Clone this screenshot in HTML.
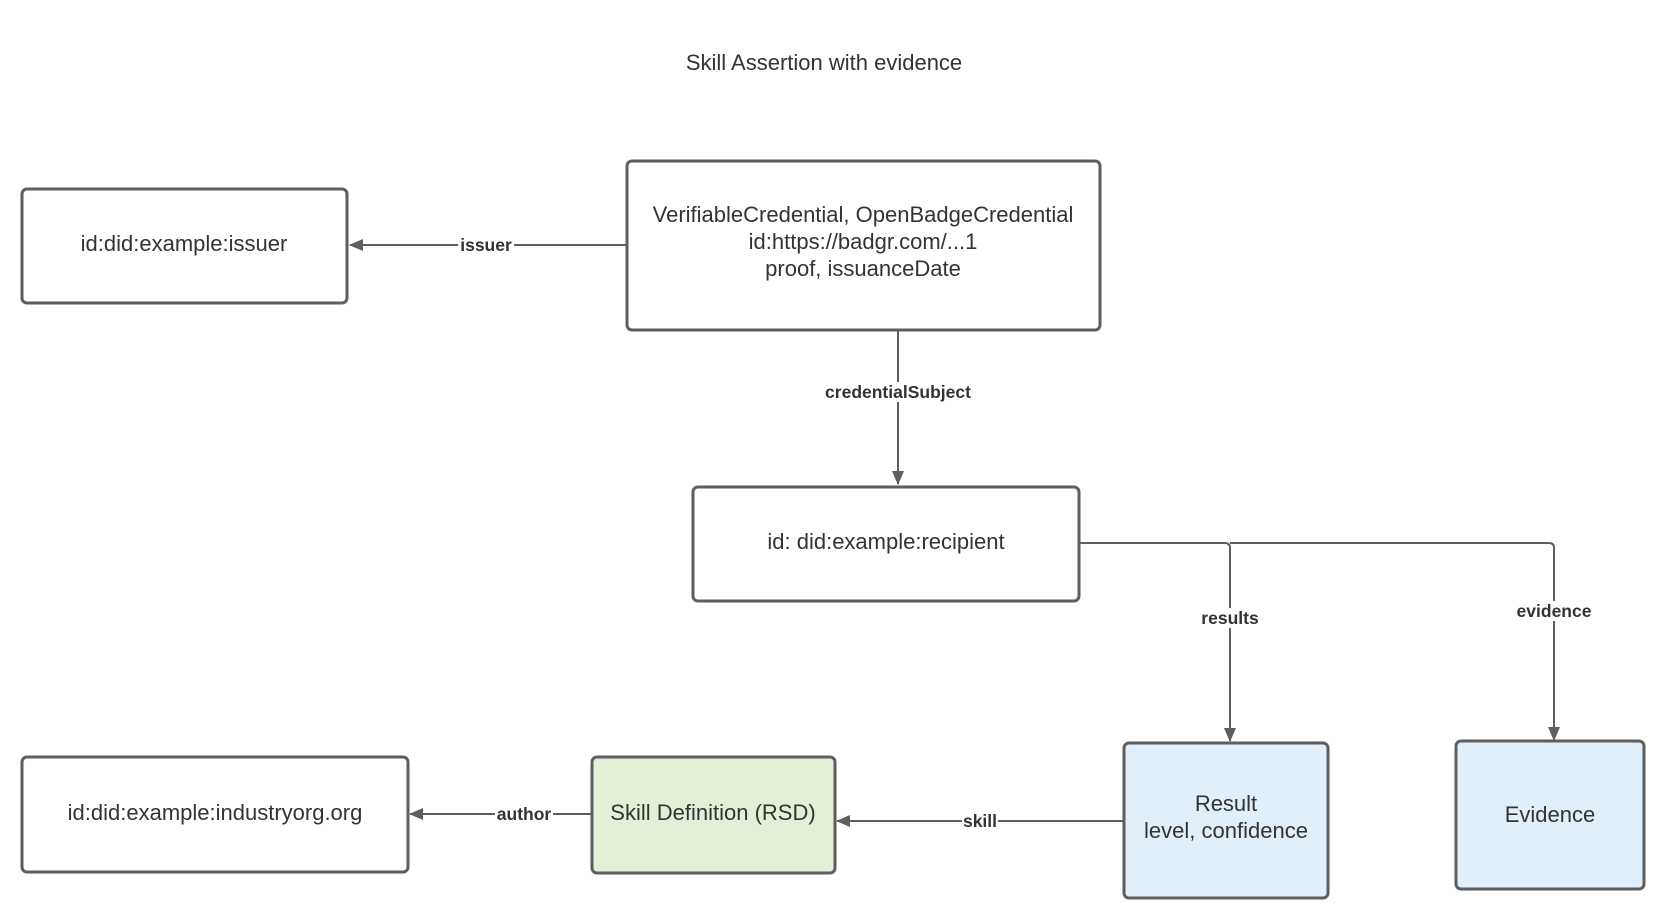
<!DOCTYPE html>
<html><head><meta charset="utf-8"><style>
html,body{margin:0;padding:0;background:#fff;}
svg{display:block;}
text{font-family:"Liberation Sans",Arial,sans-serif;fill:#333;}
.n{font-size:22px;text-anchor:middle;}
.l{font-size:17.5px;font-weight:bold;text-anchor:middle;}
.b{stroke:#5e5e5e;stroke-width:3;}
.c{stroke:#5e5e5e;stroke-width:2;fill:none;}
.bg{fill:#fff;}
</style></head><body>
<svg width="1668" height="916" viewBox="0 0 1668 916" xmlns="http://www.w3.org/2000/svg">
<defs><marker id="a" markerWidth="14" markerHeight="12" refX="13" refY="6" orient="auto" markerUnits="userSpaceOnUse"><path d="M0,0 L14,6 L0,12 z" fill="#5e5e5e"/></marker></defs>
<text x="824" y="70" class="n">Skill Assertion with evidence</text>

<line x1="626" y1="245" x2="350" y2="245" class="c" marker-end="url(#a)"/>
<line x1="898" y1="330" x2="898" y2="484" class="c" marker-end="url(#a)"/>
<path d="M1079 543 H1225 Q1230 543 1230 548 V741" class="c" marker-end="url(#a)"/>
<path d="M1230 543 H1549 Q1554 543 1554 548 V740" class="c" marker-end="url(#a)"/>
<line x1="591" y1="814" x2="410" y2="814" class="c" marker-end="url(#a)"/>
<line x1="1125" y1="821" x2="837" y2="821" class="c" marker-end="url(#a)"/>

<rect x="458" y="235" width="56" height="20" class="bg"/><text x="486" y="251" class="l">issuer</text>
<rect x="820" y="382" width="156" height="20" class="bg"/><text x="898" y="398" class="l">credentialSubject</text>
<rect x="1198" y="608" width="64" height="20" class="bg"/><text x="1230" y="624" class="l">results</text>
<rect x="1514" y="601" width="80" height="20" class="bg"/><text x="1554" y="617" class="l">evidence</text>
<rect x="495" y="804" width="58" height="20" class="bg"/><text x="524" y="820" class="l">author</text>
<rect x="962" y="811" width="36" height="20" class="bg"/><text x="980" y="827" class="l">skill</text>

<rect x="22" y="189" width="325" height="114" rx="5" fill="#fff" class="b"/>
<text x="184" y="251" class="n">id:did:example:issuer</text>

<rect x="627" y="161" width="473" height="169" rx="5" fill="#fff" class="b"/>
<text x="863" y="222" class="n">VerifiableCredential, OpenBadgeCredential</text>
<text x="863" y="249" class="n">id:https://badgr.com/...1</text>
<text x="863" y="276" class="n">proof, issuanceDate</text>

<rect x="693" y="487" width="386" height="114" rx="5" fill="#fff" class="b"/>
<text x="886" y="549" class="n">id: did:example:recipient</text>

<rect x="22" y="757" width="386" height="115" rx="5" fill="#fff" class="b"/>
<text x="215" y="820" class="n">id:did:example:industryorg.org</text>

<rect x="592" y="757" width="243" height="116" rx="5" fill="#e3f0d8" class="b"/>
<text x="713" y="820" class="n">Skill Definition (RSD)</text>

<rect x="1124" y="743" width="204" height="155" rx="5" fill="#e0eff9" class="b"/>
<text x="1226" y="811" class="n">Result</text>
<text x="1226" y="838" class="n">level, confidence</text>

<rect x="1456" y="741" width="188" height="148" rx="5" fill="#e0eff9" class="b"/>
<text x="1550" y="822" class="n">Evidence</text>
</svg>
</body></html>
